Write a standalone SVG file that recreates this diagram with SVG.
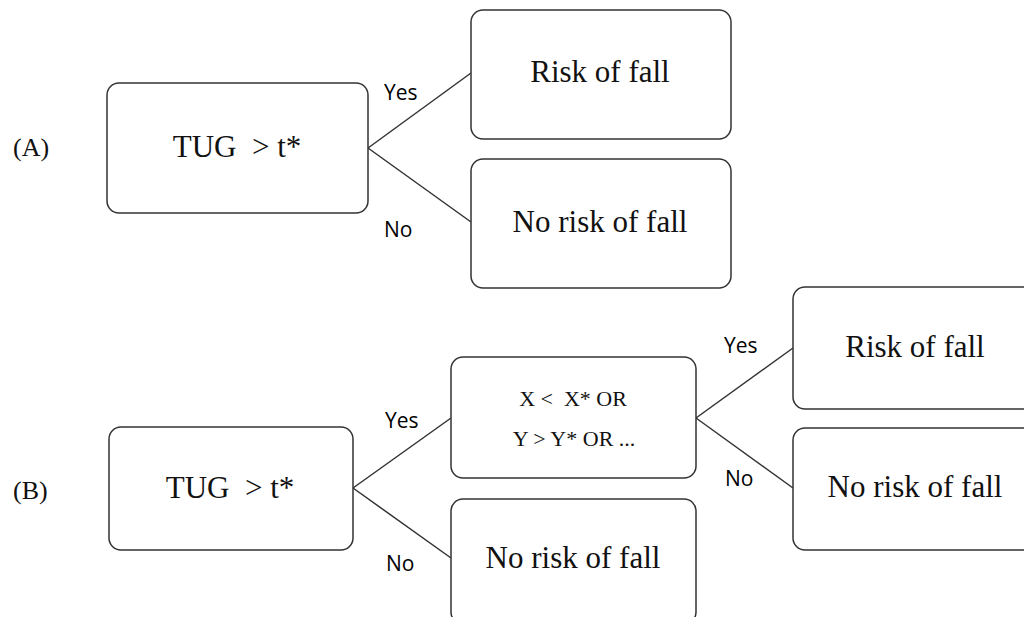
<svg xmlns="http://www.w3.org/2000/svg" width="1024" height="617" viewBox="0 0 1024 617">
<style>
.box{fill:#fff;stroke:#333;stroke-width:1.5}
.main{font-family:"Liberation Serif","Times New Roman",serif;font-size:31px;fill:#111;text-anchor:middle;white-space:pre}
.cond{font-family:"Liberation Serif","Times New Roman",serif;font-size:22px;fill:#111;text-anchor:middle;white-space:pre}
.tag{font-family:"Liberation Serif","Times New Roman",serif;font-size:26px;fill:#111}
.lbl{font-family:"Open Sans","Liberation Sans",sans-serif;font-size:21px;fill:#000}
.conn{stroke:#333;stroke-width:1.5;fill:none}
</style>
<rect width="1024" height="617" fill="#fff"/>
<text class="tag" x="13" y="156">(A)</text>
<text class="tag" x="13" y="499">(B)</text>
<g id="connectors">
<line class="conn" x1="368" y1="148" x2="471" y2="73"/>
<line class="conn" x1="368" y1="148" x2="471" y2="222"/>
<line class="conn" x1="353" y1="488" x2="451" y2="418"/>
<line class="conn" x1="353" y1="488" x2="451" y2="558"/>
<line class="conn" x1="696" y1="418" x2="793" y2="348"/>
<line class="conn" x1="696" y1="418" x2="793" y2="488"/>
<text class="lbl" x="384" y="100">Yes</text>
<text class="lbl" x="384" y="237">No</text>
<text class="lbl" x="385" y="428">Yes</text>
<text class="lbl" x="386" y="571">No</text>
<text class="lbl" x="724" y="353">Yes</text>
<text class="lbl" x="725" y="486">No</text>
</g>
<g id="a-tug">
<rect class="box" x="107" y="83" width="261" height="130" rx="12"/>
<text class="main" x="237" y="157" xml:space="preserve">TUG  &gt; t*</text>
</g>
<g id="a-risk">
<rect class="box" x="471" y="10" width="260" height="129" rx="12"/>
<text class="main" x="600" y="82">Risk of fall</text>
</g>
<g id="a-norisk">
<rect class="box" x="471" y="159" width="260" height="129" rx="12"/>
<text class="main" x="600" y="232">No risk of fall</text>
</g>
<g id="b-tug">
<rect class="box" x="109" y="427" width="244" height="123" rx="12"/>
<text class="main" x="230" y="498" xml:space="preserve">TUG  &gt; t*</text>
</g>
<g id="b-cond">
<rect class="box" x="451" y="357" width="245" height="121" rx="12"/>
<text class="cond" x="573" y="406" xml:space="preserve">X &lt;  X* OR</text>
<text class="cond" x="574" y="446" xml:space="preserve">Y &gt; Y* OR ...</text>
</g>
<g id="b-norisk">
<rect class="box" x="451" y="499" width="245" height="125" rx="12"/>
<text class="main" x="573" y="568">No risk of fall</text>
</g>
<g id="b-risk2">
<rect class="box" x="793" y="287" width="245" height="122" rx="12"/>
<text class="main" x="915" y="357">Risk of fall</text>
</g>
<g id="b-norisk2">
<rect class="box" x="793" y="428" width="245" height="122" rx="12"/>
<text class="main" x="915" y="497">No risk of fall</text>
</g>
</svg>
